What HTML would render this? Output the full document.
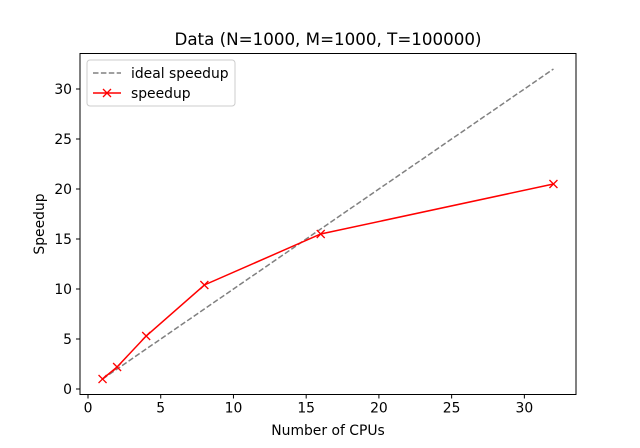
<!DOCTYPE html>
<html><head><meta charset="utf-8"><style>
body{margin:0;background:#fff}
svg text{font-family:"DejaVu Sans","Liberation Sans",sans-serif;fill:#000}
</style></head><body>
<svg id="chart" width="640" height="443">
<rect width="640" height="443" fill="#fff"/>
<text x="328" y="45" font-size="16.7" text-anchor="middle">Data (N=1000, M=1000, T=100000)</text>
<g id="plot"></g>
<rect x="80" y="53.5" width="496" height="341" fill="none" stroke="#000" stroke-width="1"/>
<text x="328" y="435" font-size="13.9" text-anchor="middle">Number of CPUs</text>
<text transform="translate(44,224) rotate(-90)" font-size="13.9" text-anchor="middle">Speedup</text>
<g>
<rect x="87" y="60" width="148" height="46" rx="3" fill="#fff" stroke="#ccc"/>
<line x1="93" y1="73" x2="121" y2="73" stroke="#808080" stroke-width="1.5" stroke-dasharray="5.5,2.4"/>
<text x="131" y="78" font-size="13.9">ideal speedup</text>
<line x1="93" y1="93" x2="121" y2="93" stroke="#f00" stroke-width="1.5"/>
<path d="M103,89 l8,8 M111,89 l-8,8" stroke="#f00" stroke-width="1.3"/>
<text x="131" y="98" font-size="13.9">speedup</text>
</g>
</svg>
<script>
const cpus=[1,2,4,8,16,32];
const ideal=[1,2,4,8,16,32];
const speedup=[1.0,2.2,5.3,10.4,15.5,20.5];
const xTicks=[0,5,10,15,20,25,30];
const yTicks=[0,5,10,15,20,25,30];
const NS="http://www.w3.org/2000/svg";
const g=document.getElementById('plot');
const x0=-0.55,x1=33.55,y0=-0.55,y1=33.55;
const L=80,R=576,T=53.5,B=394.5;
const sx=v=>L+(v-x0)/(x1-x0)*(R-L);
const sy=v=>B-(v-y0)/(y1-y0)*(B-T);
function mk(t,a){const e=document.createElementNS(NS,t);for(const k in a)e.setAttribute(k,a[k]);g.appendChild(e);return e;}
xTicks.forEach(v=>{
 const l=mk('line',{x1:sx(v),x2:sx(v),y1:B,y2:B+4,stroke:'#000'});
 
 
 const t=mk('text',{x:sx(v),y:B+18,'font-size':13.9,'text-anchor':'middle'});t.textContent=v;
 
 
});
yTicks.forEach(v=>{
 const l=mk('line',{x1:L-4,x2:L,y1:sy(v),y2:sy(v),stroke:'#000'});
 
 
 const t=mk('text',{x:L-8,y:sy(v)+5,'font-size':13.9,'text-anchor':'end'});t.textContent=v;
 
 
});
const ip=mk('polyline',{points:cpus.map((c,i)=>sx(c)+','+sy(ideal[i])).join(' '),fill:'none',stroke:'#808080','stroke-width':1.5,'stroke-dasharray':'5.5,2.4'});


const sp=mk('polyline',{points:cpus.map((c,i)=>sx(c)+','+sy(speedup[i])).join(' '),fill:'none',stroke:'#f00','stroke-width':1.5});


cpus.forEach((c,i)=>{
 const X=sx(c),Y=sy(speedup[i]);
 const m=mk('path',{d:`M${X-4},${Y-4} L${X+4},${Y+4} M${X+4},${Y-4} L${X-4},${Y+4}`,stroke:'#f00','stroke-width':1.3});
 
 
});
</script>
</body></html>
